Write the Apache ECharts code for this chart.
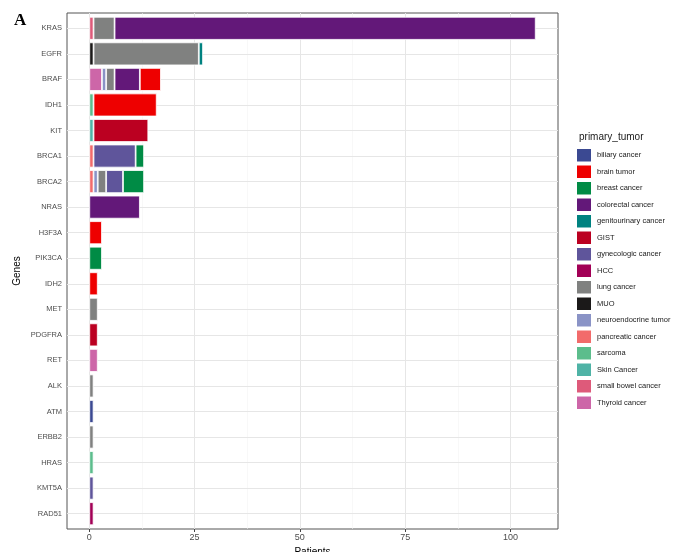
<!DOCTYPE html>
<html>
<head>
<meta charset="utf-8">
<script src="https://cdn.jsdelivr.net/npm/echarts@6/dist/echarts.min.js"></script>
<style>
  html, body { margin: 0; padding: 0; background: #fff; }
  #chart { width: 677px; height: 552px; }
</style>
</head>
<body>
<div id="chart"></div>
<script>
// Genes, top to bottom
const genes = ['KRAS', 'EGFR', 'BRAF', 'IDH1', 'KIT', 'BRCA1', 'BRCA2', 'NRAS', 'H3F3A', 'PIK3CA',
               'IDH2', 'MET', 'PDGFRA', 'RET', 'ALK', 'ATM', 'ERBB2', 'HRAS', 'KMT5A', 'RAD51'];

// Patients per gene for each primary tumor (same order as genes)
//                          KRAS EGFR BRAF IDH1 KIT BRCA1 BRCA2 NRAS H3F3A PIK3CA IDH2 MET PDGFRA RET ALK ATM ERBB2 HRAS KMT5A RAD51
const biliary        = [0,   0,   0,   0,   0,  0,    0,    0,   0,    0,     0,   0,  0,     0,  0,  1,  0,    0,   0,    0];
const brain          = [0,   0,   5,   15,  0,  0,    0,    0,   3,    0,     2,   0,  0,     0,  0,  0,  0,    0,   0,    0];
const breast         = [0,   0,   0,   0,   0,  2,    5,    0,   0,    3,     0,   0,  0,     0,  0,  0,  0,    0,   0,    0];
const colorectal     = [100, 0,   6,   0,   0,  0,    0,    12,  0,    0,     0,   0,  0,     0,  0,  0,  0,    0,   0,    0];
const genitourinary  = [0,   1,   0,   0,   0,  0,    0,    0,   0,    0,     0,   0,  0,     0,  0,  0,  0,    0,   0,    0];
const gist           = [0,   0,   0,   0,   13, 0,    0,    0,   0,    0,     0,   0,  2,     0,  0,  0,  0,    0,   0,    0];
const gynecologic    = [0,   0,   0,   0,   0,  10,   4,    0,   0,    0,     0,   0,  0,     0,  0,  0,  0,    0,   1,    0];
const hcc            = [0,   0,   0,   0,   0,  0,    0,    0,   0,    0,     0,   0,  0,     0,  0,  0,  0,    0,   0,    1];
const lung           = [5,   25,  2,   0,   0,  0,    2,    0,   0,    0,     0,   2,  0,     0,  1,  0,  1,    0,   0,    0];
const muo            = [0,   1,   0,   0,   0,  0,    0,    0,   0,    0,     0,   0,  0,     0,  0,  0,  0,    0,   0,    0];
const neuroendocrine = [0,   0,   1,   0,   0,  0,    1,    0,   0,    0,     0,   0,  0,     0,  0,  0,  0,    0,   0,    0];
const pancreatic     = [0,   0,   0,   0,   0,  1,    1,    0,   0,    0,     0,   0,  0,     0,  0,  0,  0,    0,   0,    0];
const sarcoma        = [0,   0,   0,   1,   0,  0,    0,    0,   0,    0,     0,   0,  0,     0,  0,  0,  0,    1,   0,    0];
const skin           = [0,   0,   0,   0,   1,  0,    0,    0,   0,    0,     0,   0,  0,     0,  0,  0,  0,    0,   0,    0];
const smallBowel     = [1,   0,   0,   0,   0,  0,    0,    0,   0,    0,     0,   0,  0,     0,  0,  0,  0,    0,   0,    0];
const thyroid        = [0,   0,   3,   0,   0,  0,    0,    0,   0,    0,     0,   0,  0,     2,  0,  0,  0,    0,   0,    0];

const tumorNames = ['biliary cancer', 'brain tumor', 'breast cancer', 'colorectal cancer', 'genitourinary cancer',
                    'GIST', 'gynecologic cancer', 'HCC', 'lung cancer', 'MUO', 'neuroendocrine tumor',
                    'pancreatic cancer', 'sarcoma', 'Skin Cancer', 'small bowel cancer', 'Thyroid cancer'];
const tumorValues = [biliary, brain, breast, colorectal, genitourinary, gist, gynecologic, hcc, lung, muo,
                     neuroendocrine, pancreatic, sarcoma, skin, smallBowel, thyroid];
const tumorColors = ['#3b4992', '#ee0000', '#008b45', '#631879', '#008280', '#bb0021', '#5f559b', '#a20056',
                     '#808180', '#1b1919', '#8a93c6', '#f26b6b', '#5cbd8c', '#4fb3a6', '#de5a7a', '#cd66a8'];

// Axis ticks
const xMajor = [0, 25, 50, 75, 100];
const xMinor = [12.5, 37.5, 62.5, 87.5];
const xRange = [-5.3, 111.3];

const chart = echarts.init(document.getElementById('chart'), null, { renderer: 'canvas' });

// Panel edges and the inset band area (discrete axis padding of 0.6 category)
const panel = { left: 67, right: 119, top: 13, bottom: 23 };
const inset = 2.55;

// Vertical grid lines across the whole panel
const vGridSeries = {
  type: 'line',
  xAxisIndex: 0, yAxisIndex: 0,
  data: [],
  silent: true,
  z: 1,
  markLine: {
    silent: true, z: 1,
    symbol: ['none', 'none'],
    label: { show: false },
    animation: false,
    data: [
      ...xMinor.map(v => ({ xAxis: v, lineStyle: { color: '#f3f3f3', width: 0.6, type: 'solid' } })),
      ...xMajor.map(v => ({ xAxis: v, lineStyle: { color: '#e6e6e6', width: 1, type: 'solid' } }))
    ]
  }
};

// Horizontal grid lines through each gene
const hGridSeries = {
  type: 'line',
  xAxisIndex: 1, yAxisIndex: 1,
  data: [],
  silent: true,
  z: 1,
  markLine: {
    silent: true, z: 1,
    symbol: ['none', 'none'],
    label: { show: false },
    animation: false,
    data: genes.map(g => ({ yAxis: g, lineStyle: { color: '#e6e6e6', width: 1, type: 'solid' } }))
  }
};

// Later tumor levels sit nearest zero in the stack
const barSeries = [];
for (let i = tumorNames.length - 1; i >= 0; i--) {
  barSeries.push({
    name: tumorNames[i],
    type: 'bar',
    xAxisIndex: 1, yAxisIndex: 1,
    stack: 'total',
    barWidth: '90%',
    z: 3,
    itemStyle: { color: tumorColors[i], borderColor: '#ffffff', borderWidth: 0.8 },
    data: tumorValues[i].map(v => (v > 0 ? v : null))
  });
}

const font = 'Liberation Sans';

const option = {
  animation: false,
  backgroundColor: '#ffffff',
  title: [
    { text: 'A', left: 9, top: 7, textStyle: { fontFamily: 'Liberation Serif', fontWeight: 'bold', fontSize: 17, color: '#000' } },
    { text: 'primary_tumor', left: 574, top: 127, textStyle: { fontFamily: font, fontWeight: 'normal', fontSize: 10, color: '#1a1a1a' } }
  ],
  grid: [
    { left: panel.left, right: panel.right, top: panel.top, bottom: panel.bottom,
      outerBoundsMode: 'none', containLabel: false,
      show: true, borderColor: '#555555', borderWidth: 1, backgroundColor: 'transparent', z: 0 },
    { left: panel.left, right: panel.right, top: panel.top + inset, bottom: panel.bottom + inset,
      outerBoundsMode: 'none', containLabel: false }
  ],
  legend: {
    orient: 'vertical',
    left: 570, top: 142,
    itemWidth: 16, itemHeight: 14.5, itemGap: 0,
    icon: 'rect',
    data: tumorNames,
    selectedMode: false,
    textStyle: { fontFamily: font, fontSize: 7.5, color: '#1a1a1a' }
  },
  xAxis: [
    { gridIndex: 0, type: 'value', min: xRange[0], max: xRange[1], show: false },
    {
      gridIndex: 1,
      type: 'value',
      min: xRange[0], max: xRange[1],
      offset: inset,
      name: 'Patients', nameLocation: 'middle', nameGap: 18, nameMoveOverlap: false,
      nameTextStyle: { fontFamily: font, fontSize: 10, color: '#000' },
      axisLine: { show: false },
      axisTick: { show: true, length: 3, customValues: xMajor, lineStyle: { color: '#444' } },
      axisLabel: { customValues: xMajor, fontFamily: font, fontSize: 9, color: '#4d4d4d', margin: 4 },
      splitLine: { show: false }
    }
  ],
  yAxis: [
    { gridIndex: 0, type: 'value', min: 0, max: 1, show: false },
    {
      gridIndex: 1,
      type: 'category',
      data: genes,
      inverse: true,
      name: 'Genes', nameLocation: 'middle', nameGap: 45, nameRotate: 90, nameMoveOverlap: false,
      nameTextStyle: { fontFamily: font, fontSize: 10, color: '#000' },
      axisLine: { show: false },
      axisTick: { show: true, alignWithLabel: true, length: 3, lineStyle: { color: '#444' } },
      axisLabel: { fontFamily: font, fontSize: 7.5, color: '#4d4d4d', margin: 5 },
      splitLine: { show: false }
    }
  ],
  series: [vGridSeries, hGridSeries, ...barSeries]
};

chart.setOption(option);
</script>
</body>
</html>
